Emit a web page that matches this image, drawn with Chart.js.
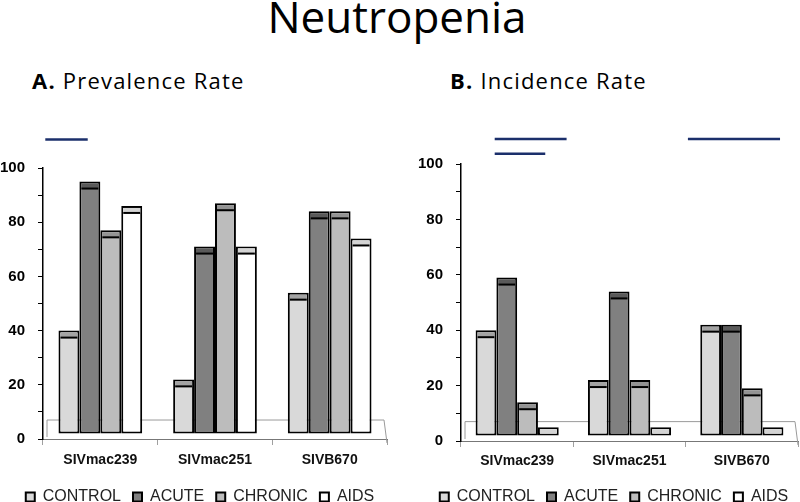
<!DOCTYPE html>
<html>
<head>
<meta charset="utf-8">
<script src="https://cdn.jsdelivr.net/npm/chart.js@4.4.1/dist/chart.umd.min.js"></script>
<style>
  html, body { margin:0; padding:0; overflow:hidden; }
  body { width:800px; height:502px; background:#fff; position:relative; font-family:'Open Sans', sans-serif; }
  #title { position:absolute; left:-3px; width:800px; top:-6px; text-align:center; font-size:44px; line-height:44px; color:#000; }
  .sub { position:absolute; top:69px; font-size:22px; line-height:22px; letter-spacing:1.2px; color:#000; white-space:nowrap; }
  .wrap { position:absolute; top:120px; width:400px; height:404px; }
  canvas { display:block; }
</style>
</head>
<body>
<div id="title">Neutropenia</div>
<div class="sub" style="left:32px"><b>A.</b> Prevalence Rate</div>
<div class="sub" style="left:450px"><b>B.</b> Incidence Rate</div>
<div class="wrap" style="left:0"><canvas id="cA" width="400" height="404"></canvas></div>
<div class="wrap" style="left:414px"><canvas id="cB" width="400" height="404"></canvas></div>
<script>
// ---- data ----
const categories = ['SIVmac239', 'SIVmac251', 'SIVB670'];
const seriesNames = ['CONTROL', 'ACUTE', 'CHRONIC', 'AIDS'];
const prevalenceControl = [40, 22, 54];
const prevalenceAcute   = [95, 71, 84];
const prevalenceChronic = [77, 87, 84];
const prevalenceAids    = [86, 71, 74];
const incidenceControl  = [40, 22, 42];
const incidenceAcute    = [59, 54, 42];
const incidenceChronic  = [14, 22, 19];
const incidenceAids     = [5, 5, 5];
const yTickValues = [0, 20, 40, 60, 80, 100];
// significance bars: from/to in category index units, y in value units
const prevalenceSigLines = [{ from: -0.48, to: -0.11, y: 110.5 }];
const incidenceSigLines = [
  { from: -0.2, to: 0.44, y: 109 },
  { from: -0.2, to: 0.25, y: 103.7 },
  { from: 1.52, to: 2.34, y: 109 }
];

// ---- styles ----
const faceColors = ['#d9d9d9', '#808080', '#bcbcbc', '#ffffff'];
const capColors  = ['#a3a3a3', '#5a5a5a', '#939393', '#d4d4d4'];
const FONT_AXIS = "'Liberation Sans', Arial, sans-serif";

const capPlugin = {
  id: 'caps',
  beforeDatasetsDraw(chart) {
    const ctx = chart.ctx, ys = chart.scales.y;
    const l = chart.chartArea.left, r = chart.chartArea.right;
    const y0 = ys.getPixelForValue(0), yb = ys.getPixelForValue(7);
    ctx.save();
    ctx.strokeStyle = '#9a9a9a';
    ctx.lineWidth = 1;
    ctx.beginPath();
    ctx.moveTo(l + 4, y0 - 2);
    ctx.lineTo(l + 4, yb);
    ctx.lineTo(r - 3, yb);
    ctx.lineTo(r, y0 + 4);
    ctx.stroke();
    ctx.restore();
  },
  afterDatasetsDraw(chart) {
    const ctx = chart.ctx;
    const CAP = 7, BW = 2;
    chart.data.datasets.forEach((ds, di) => {
      const meta = chart.getDatasetMeta(di);
      meta.data.forEach(bar => {
        const p = bar.getProps(['x', 'y', 'base', 'width'], true);
        const left = p.x - p.width / 2;
        const h = p.base - p.y;
        ctx.save();
        ctx.fillStyle = ds.capColor;
        ctx.fillRect(left + BW, p.y + BW, p.width - 2 * BW, Math.min(CAP - BW, h - 2 * BW));
        if (h > CAP + BW + 1) {
          ctx.strokeStyle = '#000';
          ctx.lineWidth = 2;
          ctx.beginPath();
          ctx.moveTo(left + BW, p.y + CAP);
          ctx.lineTo(left + p.width - BW, p.y + CAP);
          ctx.stroke();
        }
        ctx.restore();
      });
    });
  },
  afterDraw(chart) {
    const ctx = chart.ctx, xs = chart.scales.x, ys = chart.scales.y;
    const lines = chart.options.plugins.caps.lines || [];
    const p0 = xs.getPixelForValue(0), step = xs.getPixelForValue(1) - p0;
    ctx.save();
    ctx.strokeStyle = '#1b2f6b';
    ctx.lineWidth = 2.5;
    lines.forEach(ln => {
      const yy = ys.getPixelForValue(ln.y);
      ctx.beginPath();
      ctx.moveTo(p0 + ln.from * step, yy);
      ctx.lineTo(p0 + ln.to * step, yy);
      ctx.stroke();
    });
    ctx.restore();
  }
};

function makeChart(id, series, lines, g) {
  const datasets = seriesNames.map((name, i) => ({
    label: name,
    data: series[i],
    base: 2,
    backgroundColor: faceColors[i],
    capColor: capColors[i],
    borderColor: '#000',
    borderWidth: 2,
    borderSkipped: false,
    categoryPercentage: g.catPct,
    barPercentage: 1.0
  }));
  return new Chart(document.getElementById(id), {
    type: 'bar',
    data: { labels: categories, datasets },
    plugins: [capPlugin],
    options: {
      responsive: false,
      animation: false,
      devicePixelRatio: 1,
      layout: { padding: { top: g.padTop, left: 0, right: 0, bottom: g.padBottom } },
      plugins: {
        caps: { lines },
        tooltip: { enabled: false },
        legend: {
          display: true,
          position: 'bottom',
          labels: {
            boxWidth: 9, boxHeight: 9, padding: 12,
            color: '#222',
            font: { family: FONT_AXIS, size: 16 }
          }
        }
      },
      scales: {
        x: {
          type: 'category',
          offset: true,
          grid: { display: true, drawOnChartArea: false, drawTicks: true, tickLength: 6, color: '#a0a0a0', offset: true },
          border: { display: true, color: '#777', width: 1 },
          ticks: { color: '#111', padding: g.xPad, font: { family: FONT_AXIS, size: 14, weight: 'bold' } },
          afterFit(s) { s.height = g.xHeight; }
        },
        y: {
          type: 'linear',
          min: 0, max: 100,
          afterBuildTicks(s) {
            const t = [];
            for (let v = 0; v <= 100; v += 10) t.push({ value: v });
            s.ticks = t;
          },
          grid: { display: true, drawOnChartArea: false, drawTicks: true, tickLength: 5, color: '#000', lineWidth: 1 },
          border: { display: true, color: '#000', width: 1.5 },
          ticks: {
            color: '#000', padding: 13,
            font: { family: FONT_AXIS, size: 15, weight: 'bold' },
            callback: v => (yTickValues.includes(v) ? String(v) : '')
          },
          afterFit(s) { s.width = g.yWidth; }
        },
        yR: {
          type: 'linear', position: 'right', display: true,
          grid: { display: false }, border: { display: false },
          ticks: { display: false },
          afterFit(s) { s.width = g.rWidth; }
        }
      }
    }
  });
}

makeChart('cA', [prevalenceControl, prevalenceAcute, prevalenceChronic, prevalenceAids], prevalenceSigLines,
  { padTop: 48, padBottom: 9, yWidth: 43, rWidth: 13, xHeight: 38, xPad: 7, catPct: 0.73 });
makeChart('cB', [incidenceControl, incidenceAcute, incidenceChronic, incidenceAids], incidenceSigLines,
  { padTop: 44, padBottom: 9, yWidth: 47, rWidth: 16, xHeight: 36, xPad: 6, catPct: 0.74 });
</script>
</body>
</html>
